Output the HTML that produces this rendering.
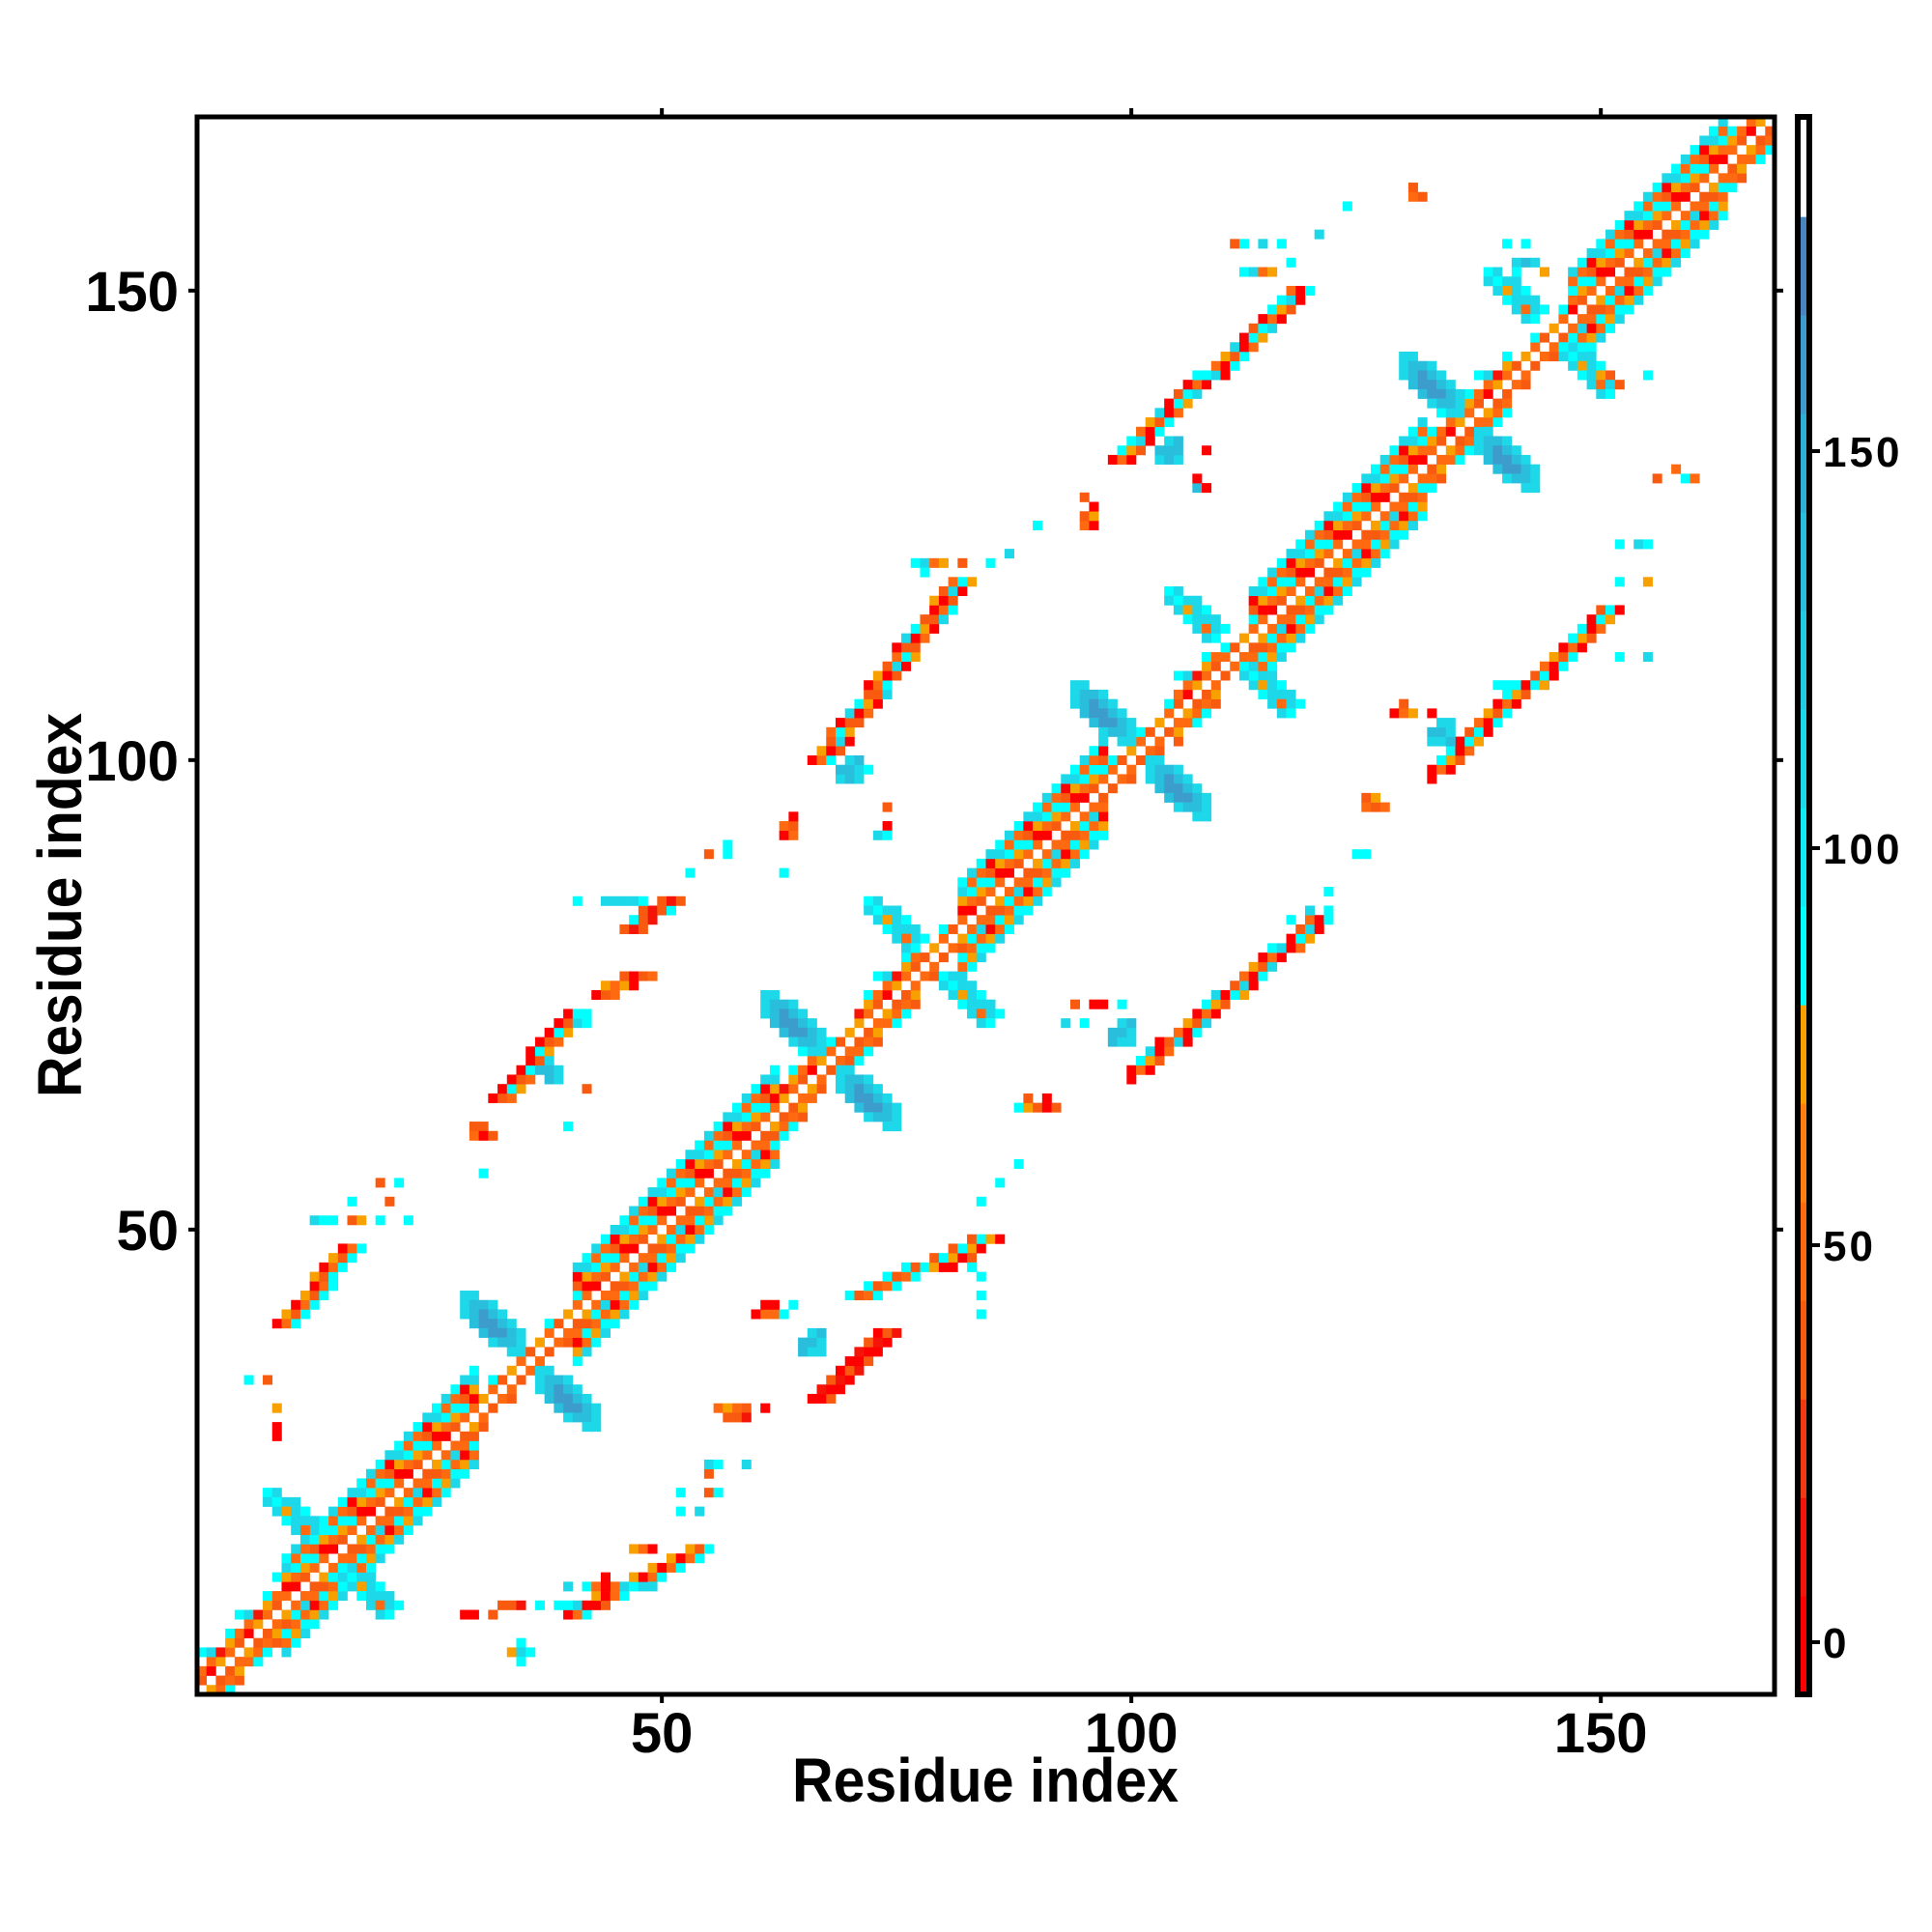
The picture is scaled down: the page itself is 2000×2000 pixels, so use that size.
<!DOCTYPE html>
<html><head><meta charset="utf-8"><style>
html,body{margin:0;padding:0;background:#fff;}
svg{display:block;font-family:"Liberation Sans",sans-serif;font-weight:bold;}
</style></head><body>
<svg id="chart" width="2000" height="2000" viewBox="0 0 2000 2000" xmlns="http://www.w3.org/2000/svg">
<rect width="2000" height="2000" fill="#fff"/>
<g id="cells"></g>
<g id="axes"></g>
<g id="cbar"></g>
</svg>
<script>
// ---- data ----
const codeChars = ['r','R','o','O','y','c','t','b','B'];
const codeValues = [3, 15, 35, 50, 70, 85, 110, 135, 165];
const bandTemplates = [
  ["tcOtO.oycOc","cyrOo.Ocort","tOcoy.Orytc","cyOcO.rOcOt"],
  ["..cOo.Oyc..","..oyO.oO.c.","...Oy.rOt..","..cOo.yR..."],
  ["....O.o....","...oO.y....","....o.Oc..."]
];
const bandSegments = [[1,9,1],[10,30,0],[31,40,2],[41,62,0],[63,66,1],[67,70,2],[71,77,1],[78,81,2],[82,97,0],[98,104,2],[105,109,1],[110,112,2],[113,131,0],[132,140,1],[141,146,2],[147,163,0],[164,168,1]];
const crossCenters = [[15,15,0],[36,36,1],[68,68,1],[79,78,0],[101,101,1],[111,111,0],[136,136,1],[145,145,0]];
const blobStrong = ["tt.....","tbbt...","tbBbt..",".bBBbt.","..bBBbt","...tbbt",".....tt"];
const blobLight = ["ct.....","tctt...",".tytc..","..cttt.","...tOtc","....tc.","......."];
const upperStreaks = [[9,40,16,48,"rOcyoc"],[32,64,40,73,"roOrcy"],[66,100,81,119,"rOcyroot"],[98,132,117,150,"rOrcyoct"],[43,75,47,77,"roOy"],[46,82,50,85,"oRoc"]];
const lowerStreaks = [[40,9,53,16,"rOcyoc"],[66,32,73,39,"rroR"],[70,43,84,49,"cyroOc"],[100,67,119,83,"rOrcyot"],[132,99,150,116,"rOrcyoc"]];
const upperRuns = [[6,34,"c.o"],[9,31,"y"],[9,28,"r"],[9,29,"r"],[13,51,"tcc.oy.c..c"],[17,53,"c...o"],[20,55,"o.c"],[30,61,"oo"],[30,60,"Oro"],[31,56,"c"],[38,66,"bt"],[37,67,"bbt"],[38,68,"t"],[40,61,"c"],[42,65,"o"],[42,73,"c"],[41,72,"tc"],[41,85,"c..ttttc.o"],[53,88,"c"],[55,90,"o.c"],[57,91,"c"],[63,92,"rO"],[63,93,"Oo"],[64,94,"r"],[63,88,"c"],[69,98,"tbt"],[69,99,"bbtc"],[70,100,"tb"],[74,93,"r"],[74,95,"o"],[73,92,"tc"],[77,121,"ctOy.o..c"],[78,120,"c"],[90,125,"c"],[87,122,"t"],[95,125,"Or"],[95,126,"oy"],[96,127,"r"],[95,128,"o"],[103,132,"tbt"],[103,133,"bbb"],[104,134,"tb"],[107,129,"br"],[108,133,"r"],[107,130,"r"],[111,155,"oc.t.c"],[112,152,"ctOy"],[117,153,"c"],[120,156,"t"],[123,159,"c"],[130,160,"Oo"],[130,161,"o"],[140,155,"c.c"],[141,153,"tbt"],[141,152,"c..y"],[150,141,"yo...c"],[152,140,"o"]];
const lowerRuns = [[29,9,"rr.o"],[33,10,"ooR.c"],[35,6,"c"],[34,5,"ytc"],[35,4,"c"],[39,10,"cct.ro"],[40,12,"t.cOrOtctt"],[44,13,"r"],[47,16,"yOr"],[52,20,"c.t"],[52,22,"c..oc"],[55,24,"o"],[55,25,"tc..t"],[56,31,"OyOo.r"],[57,30,"ooR"],[60,41,"rOOc"],[61,42,"rr.c"],[65,37,"btt"],[65,38,"bbt"],[66,39,"tb"],[84,41,"c"],[84,43,"c"],[84,45,"c"],[83,47,"o"],[81,46,"r.c"],[84,53,"c"],[88,57,"c"],[86,55,"c"],[88,63,"cyoro"],[89,64,"o.r"],[94,74,"o.rr.c"],[93,72,"t.c"],[98,70,"btt"],[98,71,"bbt"],[99,72,"tb"],[100,66,"r"],[117,83,"c"],[119,84,"t.c"],[121,86,"c"],[124,90,"cc"],[125,95,"OoO"],[125,96,"oy"],[132,98,"r"],[132,102,"ttb"],[132,103,"bbt"],[133,104,"tt"],[128,105,"rOy.r"],[129,106,"o"],[139,108,"cc"],[152,111,"c..t"],[152,119,"c..y"],[152,123,"c.tc"],[156,130,"o..cO"],[158,131,"O"]];
const axisTicks = [50, 100, 150];
const cbarTicks = [0, 50, 100, 150];
const bandColors = ["#ff0000","#f41408","#f03a10","#f85a10","#ff6a10","#ff8010","#f8a000","#00ffff","#10eaf5","#1cd8e8","#22cce0","#28bedc","#30aed4","#3c9ccc","#4a85c0","#ffffff"];
const cbarMin = -6.6, cbarBand = 12.41;

// ---- scales ----
const NS="http://www.w3.org/2000/svg";
const L=204, T=121, R=1837, B=1754, N=168;
const cw=(R-L)/N;
const sx=r=>L+(r-0.5)*cw;
const sy=r=>B-(r-0.5)*cw;
const cy0=1700, cpu=8.22;
const cbY=v=>cy0-v*cpu;
function colorOf(v){let k=Math.floor((v-cbarMin)/cbarBand);k=Math.max(0,Math.min(bandColors.length-1,k));return bandColors[k];}
function valOf(ch){const i=codeChars.indexOf(ch);return i<0?null:codeValues[i];}
const cellsG=document.getElementById('cells');
const filled={};
function cell(x,y,ch){
  const v=valOf(ch); if(v===null||x<1||y<1||x>N||y>N) return;
  const key=x+','+y;
  let r=filled[key];
  if(!r){r=document.createElementNS(NS,'rect');
    
    
    r.setAttribute('x',(sx(x)-cw/2).toFixed(2));r.setAttribute('y',(sy(y)-cw/2).toFixed(2));
    r.setAttribute('width',(cw+0.3).toFixed(2));r.setAttribute('height',(cw+0.3).toFixed(2));
    cellsG.appendChild(r);filled[key]=r;}
  r.setAttribute('fill',colorOf(v));
}
// diagonal band
bandSegments.forEach(([s,e,t])=>{const tp=bandTemplates[t];
  for(let i=s;i<=e;i++){const str=tp[i%tp.length];for(let k=0;k<str.length;k++)cell(i,i+k-5,str[k]);}});
// crosses
crossCenters.forEach(([cx,cy,st])=>{const bl=st?blobStrong:blobLight;
  [[cx-7,cy+7],[cx+1,cy-1]].forEach(([ox,oy])=>{bl.forEach((row,j)=>{for(let k=0;k<row.length;k++)cell(ox+k,oy-j,row[k]);});});});
// streaks
function streak([x0,y0,x1,y1,p]){const n=Math.max(Math.abs(x1-x0),Math.abs(y1-y0));
  for(let t=0;t<=n;t++){const x=x0+Math.round(t*(x1-x0)/n),y=y0+Math.round(t*(y1-y0)/n);
    cell(x,y,p[(3*t)%p.length]);cell(x+1,y,p[(3*t+1)%p.length]);cell(x+2,y,p[(3*t+2)%p.length]);}}
upperStreaks.forEach(streak);lowerStreaks.forEach(streak);
function run([x,y,p]){for(let k=0;k<p.length;k++)cell(x+k,y,p[k]);}
upperRuns.forEach(run);lowerRuns.forEach(run);

// ---- axes ----
const ax=document.getElementById('axes');
function el(tag,attrs,parent,text){const e=document.createElementNS(NS,tag);for(const a in attrs)e.setAttribute(a,attrs[a]);if(text!==undefined)e.textContent=text;parent.appendChild(e);return e;}
const frame=el('rect',{x:L,y:T,width:R-L,height:B-T,fill:'none',stroke:'#000','stroke-width':5},ax);


axisTicks.forEach(v=>{
  const X=sx(v),Y=sy(v);
  [[X,B,X,B+9],[X,T,X,T-9],[L,Y,L-9,Y],[R,Y,R+9,Y]].forEach(c=>{const l=el('line',{x1:c[0],y1:c[1],x2:c[2],y2:c[3],stroke:'#000','stroke-width':4},ax);
    
    });
  const tx=el('text',{x:X,y:1814,'text-anchor':'middle','font-size':58},ax,String(v));
  
  
  const ty=el('text',{x:185,y:Y+21,'text-anchor':'end','font-size':58},ax,String(v));
  
  
});
const xt=el('text',{x:1020,y:1865,'text-anchor':'middle','font-size':64,textLength:400,lengthAdjust:'spacingAndGlyphs'},ax,'Residue index');


const yt=el('text',{x:0,y:0,'text-anchor':'middle','font-size':64,textLength:398,lengthAdjust:'spacingAndGlyphs',transform:'translate(84,937) rotate(-90)'},ax,'Residue index');



// ---- colorbar ----
const cb=document.getElementById('cbar');
const cbx=1861, cbw=12;
bandColors.forEach((c,k)=>{const v0=cbarMin+k*cbarBand,v1=v0+cbarBand;
  const y1=Math.max(T,cbY(v1)),y0=Math.min(B,cbY(v0));
  const r=el('rect',{x:cbx,y:y1,width:cbw,height:y0-y1+0.5,fill:c},cb);
  
  });
const cf=el('rect',{x:cbx,y:T,width:cbw,height:B-T,fill:'none',stroke:'#000','stroke-width':6},cb);


cbarTicks.forEach(v=>{const Y=cbY(v);
  const l=el('line',{x1:cbx+cbw+3,y1:Y,x2:cbx+cbw+11,y2:Y,stroke:'#000','stroke-width':4},cb);
  
  
  const t=el('text',{x:1887,y:Y+16,'font-size':44,'letter-spacing':3},cb,String(v));
  
  });
</script>
</body></html>
